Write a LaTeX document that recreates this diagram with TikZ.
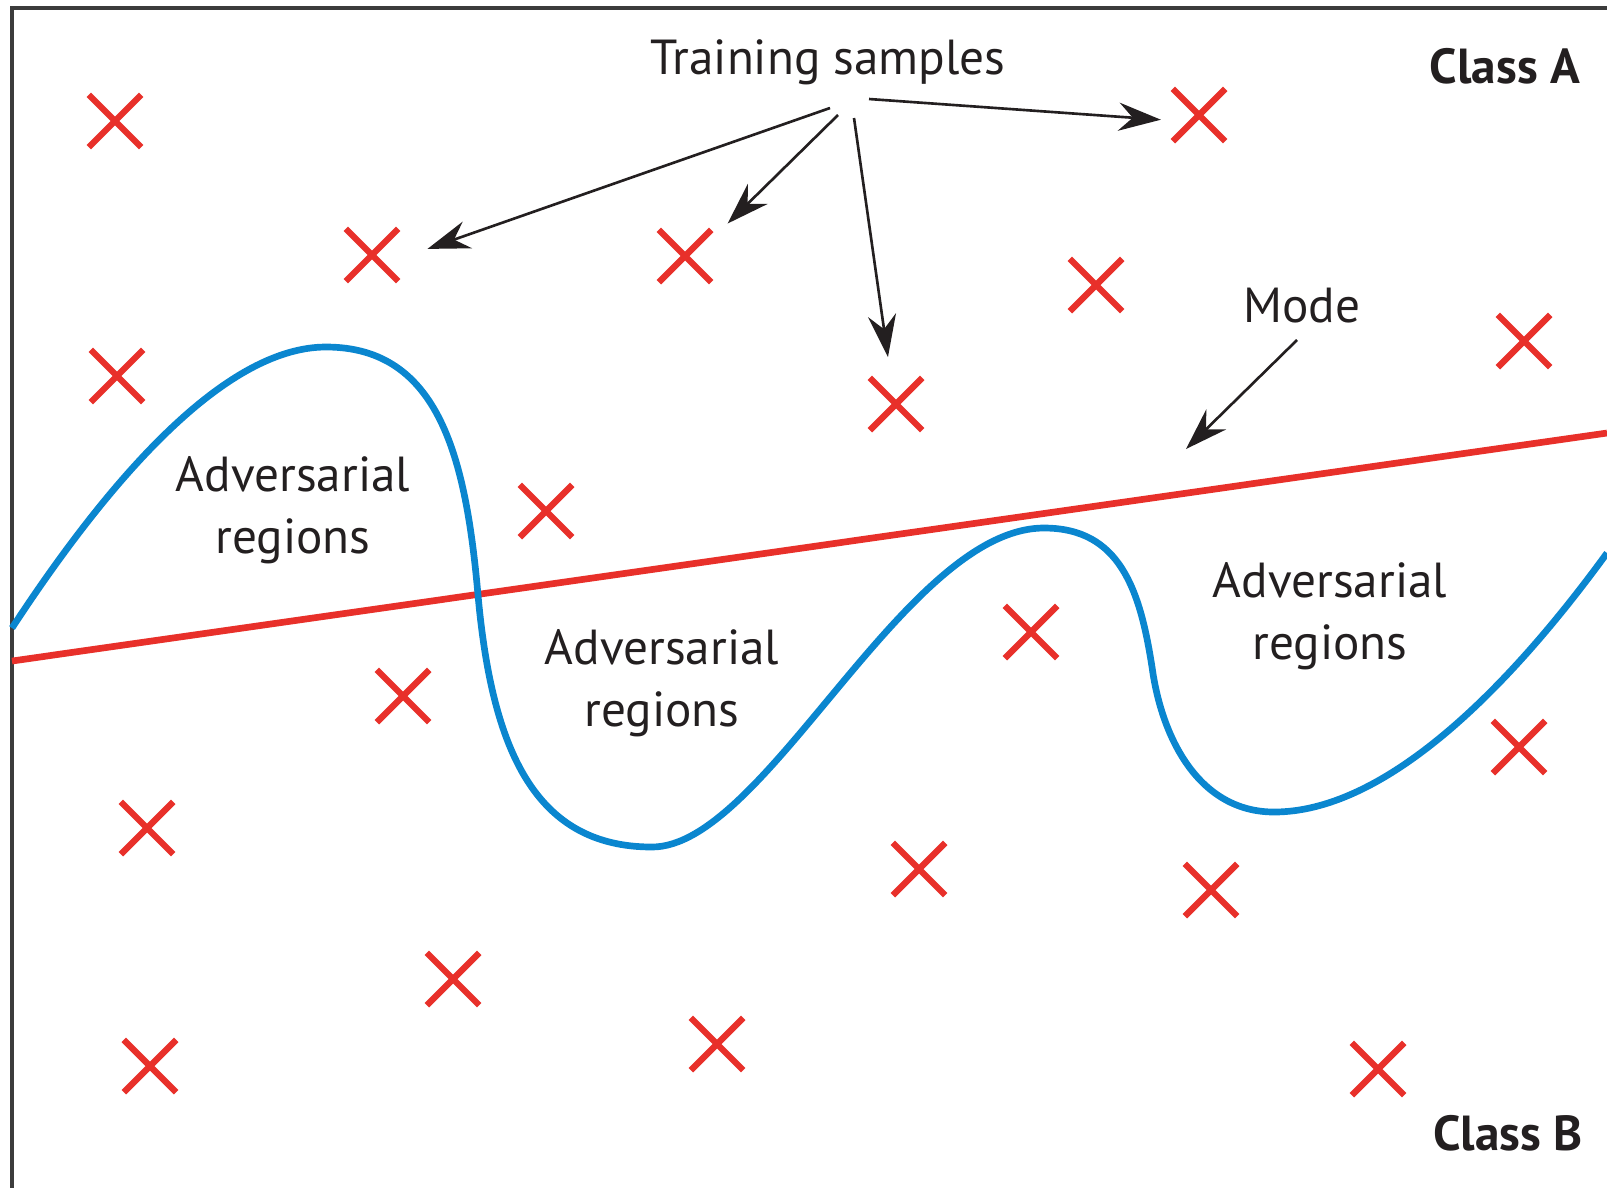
\documentclass[tikz,border=0pt]{standalone}
\usepackage{fontspec}
\setmainfont{PT Sans}
\usetikzlibrary{arrows.meta,shapes.misc}

\definecolor{xred}{RGB}{232,48,42}
\definecolor{curveblue}{RGB}{10,134,207}
\definecolor{framegray}{RGB}{60,60,60}
\definecolor{inkblack}{RGB}{35,31,32}

\begin{document}
\begin{tikzpicture}[
  x=0.01cm, y=-0.01cm,
  xmark/.style={cross out, draw=xred, line width=1.8pt, minimum size=0.46cm, inner sep=0pt},
  txt/.style={font=\fontsize{14}{17.6}\selectfont, text=inkblack, align=center, inner sep=0pt},
  classtxt/.style={font=\fontsize{14}{17}\selectfont\bfseries, text=inkblack, inner sep=0pt},
  pointer/.style={-{Stealth[length=12pt, width=8pt, inset=4pt]}, line width=0.75pt, inkblack},
  >=Stealth
]
\useasboundingbox (0,0) rectangle (1607,1187);
\clip (0,0) rectangle (1607,1187);

% frame
\draw[framegray, line width=1pt] (12,1200) -- (12,8) -- (1620,8);

% training samples
\foreach \n/\p in {1/{(115,121)}, 2/{(372,255)}, 3/{(685,256)}, 4/{(1199,115)},
                   5/{(1096,285)}, 6/{(896,404)}, 7/{(1524,341)}, 8/{(117,376)},
                   9/{(546,511)}, 10/{(1031,632)}, 11/{(403,696)}, 12/{(1519,747)},
                   13/{(147,828)}, 14/{(919,869)}, 15/{(1211,890)}, 16/{(453,979)},
                   17/{(150,1066)}, 18/{(717,1044)}, 19/{(1378,1069)}}
  \node[xmark] (s\n) at \p {};

% mode (linear boundary)
\draw[xred, line width=1.9pt] (12,661) -- (1607,433);

% true boundary
\draw[curveblue, line width=1.9pt]
  (12,628) .. controls (118,466) and (230,347) .. (326,347)
  .. controls (440,347) and (466,460) .. (478,595)
  .. controls (492,750) and (535,847) .. (652,847)
  .. controls (765,847) and (905,528) .. (1044,528)
  .. controls (1120,528) and (1140,590) .. (1152,667)
  .. controls (1162,740) and (1200,812) .. (1274,812)
  .. controls (1380,812) and (1500,700) .. (1607,553);

% labels
\node[txt, anchor=base] (train) at (828,74) {Training samples};
\node[classtxt, anchor=base] (classA) at (1505,83) {Class A};
\node[classtxt, anchor=base] (classB) at (1508,1150) {Class B};
\node[txt, anchor=base] (mode) at (1302,322) {Mode};
\node[txt] (adv1) at (293,510) {Adversarial\\regions};
\node[txt] (adv2) at (662,683) {Adversarial\\regions};
\node[txt] (adv3) at (1330,616) {Adversarial\\regions};

% arrows
\coordinate (t1) at (830,108);
\coordinate (t2) at (838,115);
\coordinate (t3) at (854,118);
\coordinate (t4) at (869,99);
\draw[pointer, shorten >=0.31cm] (t1) -- (s2.-9);
\draw[pointer, shorten >=0.23cm] (t2) -- (s3.32);
\draw[pointer, shorten >=0.21cm] (t3) -- (s6.101);
\draw[pointer, shorten >=0.12cm] (t4) -- (s4.-168);

\coordinate (m1) at (1297,340);
\coordinate (modetip) at (1186,449);
\draw[pointer] (m1) -- (modetip);

\end{tikzpicture}
\end{document}
